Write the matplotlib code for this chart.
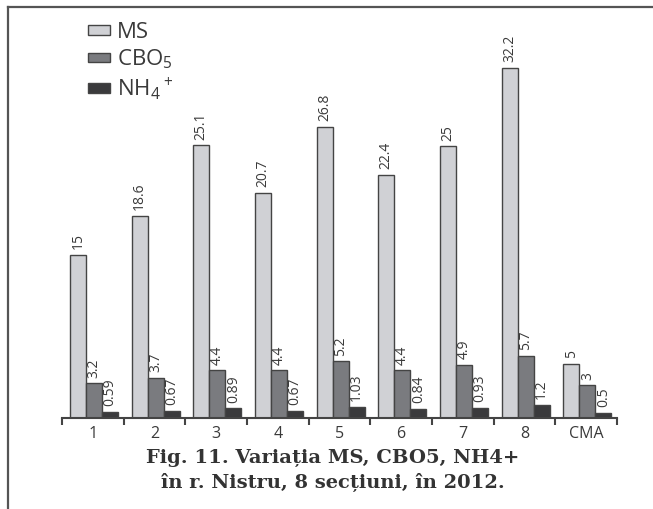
import matplotlib
matplotlib.use("Agg")
import matplotlib.pyplot as plt
from matplotlib.patches import Patch
from matplotlib.lines import Line2D
import numpy as np

plt.rcParams['font.family'] = ['Open Sans', 'DejaVu Sans']
plt.rcParams['mathtext.default'] = 'regular'

categories = ["1", "2", "3", "4", "5", "6", "7", "8", "CMA"]
ms = [15, 18.6, 25.1, 20.7, 26.8, 22.4, 25, 32.2, 5]
cbo5 = [3.2, 3.7, 4.4, 4.4, 5.2, 4.4, 4.9, 5.7, 3]
nh4 = [0.59, 0.67, 0.89, 0.67, 1.03, 0.84, 0.93, 1.2, 0.5]
series_names = ["MS", "CBO$_5$", "NH$_4$$^+$"]
colors = ["#d0d1d5", "#7a7b7f", "#3a3a3c"]

text_col = "#3a3a3a"
edge_col = "#444444"

fig = plt.figure(figsize=(6.53, 5.09), dpi=100)
ax = fig.add_axes([62 / 653, 1 - 418 / 509, (617 - 62) / 653, (418 - 7) / 509])

x = np.arange(len(categories))
w = 0.26
for i, (vals, col) in enumerate(zip([ms, cbo5, nh4], colors)):
    pos = x + (i - 1) * w + 0.02
    ax.bar(pos, vals, width=w, color=col, edgecolor=edge_col, linewidth=1.0)
    for p, v in zip(pos, vals):
        ax.annotate(str(v), (p, v), xytext=(0, 4), textcoords="offset points",
                    rotation=90, ha="center", va="bottom", fontsize=10, color=text_col)

ax.set_xlim(-0.5, len(categories) - 0.5)
ax.set_ylim(0, (418 - 7) / (350 / 32.2))
for s in ["top", "right", "left"]:
    ax.spines[s].set_visible(False)
ax.spines["bottom"].set_color(edge_col)
ax.spines["bottom"].set_linewidth(1.5)
ax.set_yticks([])
ax.set_xticks(x)
ax.set_xticklabels(categories, fontsize=11.5, color=text_col)
ax.tick_params(axis="x", which="major", length=0, pad=6)
ax.set_xticks(np.arange(len(categories) + 1) - 0.5, minor=True)
ax.tick_params(axis="x", which="minor", length=5, width=1.5, color=edge_col, direction="out")

handles = [Patch(facecolor=c, edgecolor=edge_col, linewidth=1.0) for c in colors]
ax.legend(handles, series_names, loc="upper left", bbox_to_anchor=(88 / 653, 1 - 22 / 509),
          bbox_transform=fig.transFigure, frameon=False, fontsize=16,
          borderpad=0, borderaxespad=0,
          handlelength=1.0, handleheight=0.3, handletextpad=0.3, labelspacing=0.2,
          labelcolor=text_col)

serif = ["DejaVu Serif", "Liberation Serif"]
fig.text(333 / 653, 1 - 458 / 509, "Fig. 11. Variația MS, CBO5, NH4+", ha="center", va="center",
         fontsize=14, fontweight="bold", family=serif, color="#333333")
fig.text(333 / 653, 1 - 482 / 509, "în r. Nistru, 8 secțiuni, în 2012.", ha="center", va="center",
         fontsize=14, fontweight="bold", family=serif, color="#333333")

fig.add_artist(Line2D([8 / 653, 1], [1 - 7 / 509, 1 - 7 / 509], transform=fig.transFigure,
                      color="#555555", linewidth=1.6))
fig.add_artist(Line2D([8 / 653, 8 / 653], [0, 1 - 7 / 509], transform=fig.transFigure,
                      color="#555555", linewidth=1.6))

fig.savefig("out.png", dpi=100)
